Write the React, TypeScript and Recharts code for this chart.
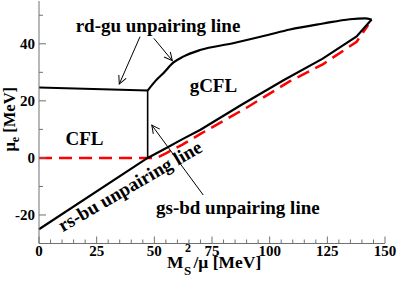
import React from 'react';
import { LineChart, Line, XAxis, YAxis, ReferenceLine, ReferenceDot } from 'recharts';

// phase boundaries (x = Ms^2/mu, y = mu_e, both MeV)
const rdguFlat = [
  { x: 0, y: 24.7 },
  { x: 47.1, y: 23.6 },
];
const rdguVertical = [
  { x: 47.1, y: 23.6 },
  { x: 47.1, y: 0 },
];
const rdguCurve = [
  { x: 47.1, y: 23.6 },
  { x: 50.5, y: 27.0 },
  { x: 53.9, y: 29.7 },
  { x: 58.2, y: 33.4 },
  { x: 62.5, y: 35.5 },
  { x: 69.8, y: 37.8 },
  { x: 84.1, y: 40.2 },
  { x: 98.8, y: 43.0 },
  { x: 108.8, y: 45.0 },
  { x: 123.2, y: 47.1 },
  { x: 134.8, y: 48.6 },
  { x: 141.3, y: 48.9 },
  { x: 144.2, y: 48.5 },
];
const rsbuLine = [
  { x: 0, y: -25 },
  { x: 47.1, y: 0 },
  { x: 55, y: 3.4 },
  { x: 62, y: 6.5 },
  { x: 70, y: 9.9 },
  { x: 88, y: 18.7 },
  { x: 106, y: 27.2 },
  { x: 123, y: 34.8 },
  { x: 137.7, y: 42.6 },
  { x: 144.2, y: 48.5 },
];
const gsbdLine = [
  { x: 0, y: 0 },
  { x: 51, y: 0 },
  { x: 55, y: 1.6 },
  { x: 62, y: 4.6 },
  { x: 70, y: 8.4 },
  { x: 90, y: 17.6 },
  { x: 108.8, y: 26.9 },
  { x: 123.2, y: 32.9 },
  { x: 137.7, y: 40.7 },
  { x: 142.7, y: 46.6 },
];

const xTicks = [0, 5, 10, 15, 20, 25, 30, 35, 40, 45, 50, 55, 60, 65, 70, 75, 80, 85, 90, 95, 100, 105, 110, 115, 120, 125, 130, 135, 140, 145, 150];
const xLabelled = [0, 25, 50, 75, 100, 125, 150];
const yTicks = [-30, -20, -10, 0, 10, 20, 30, 40, 50];
const yLabelled = [-20, 0, 20, 40];

const FONT = '"Liberation Serif", "Times New Roman", serif';
const FRAME = '#707070';

const BottomTick = (p: any) => {
  const v = p.payload.value;
  const major = xLabelled.includes(v);
  return (
    <g>
      <line x1={p.x} y1={p.y} x2={p.x} y2={p.y - (major ? 7 : 4)} stroke={FRAME} />
      {major && (
        <text x={p.x} y={p.y + 12.5} textAnchor="middle" fontFamily={FONT} fontWeight="bold" fontSize={15} fill="#000">
          {v}
        </text>
      )}
    </g>
  );
};
const TopTick = (p: any) => {
  const major = xLabelled.includes(p.payload.value);
  return <line x1={p.x} y1={p.y} x2={p.x} y2={p.y + (major ? 7 : 4)} stroke={FRAME} />;
};
const LeftTick = (p: any) => {
  const v = p.payload.value;
  const major = yLabelled.includes(v);
  return (
    <g>
      <line x1={p.x} y1={p.y} x2={p.x + (major ? 7 : 4)} y2={p.y} stroke={FRAME} />
      {major && (
        <text x={p.x - 4} y={p.y + 5} textAnchor="end" fontFamily={FONT} fontWeight="bold" fontSize={15} fill="#000">
          {v}
        </text>
      )}
    </g>
  );
};
const RightTick = (p: any) => {
  const major = yLabelled.includes(p.payload.value);
  return <line x1={p.x} y1={p.y} x2={p.x - (major ? 7 : 4)} y2={p.y} stroke={FRAME} />;
};

const XLabel = (p: any) => {
  const vb = p.viewBox;
  const x0 = vb.x + vb.width / 2 - 45;
  const base = vb.y + 24.5;
  const common = { fontFamily: FONT, fontWeight: 'bold', fill: '#000' };
  return (
    <g>
      <text x={x0} y={base} fontSize={17.5} {...common}>M</text>
      <text x={x0 + 17} y={base + 7} fontSize={13} {...common}>S</text>
      <text x={x0 + 18} y={base - 16} fontSize={12} {...common}>2</text>
      <text x={x0 + 26.5} y={base} fontSize={17.5} {...common}>/μ [MeV]</text>
    </g>
  );
};
const YLabel = (p: any) => {
  const vb = p.viewBox;
  const cx = vb.x + 6;
  const cy = vb.y + vb.height / 2 - 3;
  return (
    <text x={cx} y={cy} transform={`rotate(-90 ${cx} ${cy})`} textAnchor="middle" fontFamily={FONT} fontWeight="bold" fontSize={16.5} fill="#000">
      μ<tspan dy={4} fontSize={12}>e</tspan>
      <tspan dy={-4}> [MeV]</tspan>
    </text>
  );
};

const note = (label: string, size: number, angle = 0) => (p: any) => (
  <text
    x={p.cx}
    y={p.cy}
    transform={angle ? `rotate(${angle} ${p.cx} ${p.cy})` : undefined}
    textAnchor="middle"
    fontFamily={FONT}
    fontWeight="bold"
    fontSize={size}
    fill="#000"
  >
    {label}
  </text>
);

const arrow = (p: any) => (
  <line x1={p.x1} y1={p.y1} x2={p.x2} y2={p.y2} stroke="#000" strokeWidth={1} markerEnd="url(#openArrow)" />
);

export default function App() {
  return (
    <div style={{ position: 'absolute', left: 0, top: 0, width: 399, height: 286, background: '#fff' }}>
      <LineChart width={399} height={286} margin={{ top: 1, right: 14, bottom: 12.5, left: 9 }}>
        <defs>
          <marker id="openArrow" markerWidth={10} markerHeight={10} refX={9} refY={5} orient="auto" markerUnits="userSpaceOnUse">
            <path d="M1,1 L9,5 L1,9" fill="none" stroke="#000" strokeWidth={1} />
          </marker>
        </defs>
        <XAxis
          xAxisId={0}
          type="number"
          dataKey="x"
          domain={[0, 150]}
          ticks={xTicks}
          interval={0}
          height={30}
          tickSize={0}
          tickMargin={0}
          tickLine={false}
          tick={<BottomTick />}
          axisLine={{ stroke: FRAME }}
          label={<XLabel />}
        />
        <XAxis
          xAxisId="top"
          orientation="top"
          type="number"
          dataKey="x"
          domain={[0, 150]}
          ticks={xTicks}
          interval={0}
          height={0}
          tickSize={0}
          tickMargin={0}
          tickLine={false}
          tick={<TopTick />}
          axisLine={{ stroke: FRAME }}
        />
        <YAxis
          yAxisId={0}
          type="number"
          domain={[-30, 55]}
          ticks={yTicks}
          interval={0}
          width={30}
          tickSize={0}
          tickMargin={0}
          tickLine={false}
          tick={<LeftTick />}
          axisLine={{ stroke: FRAME }}
          label={<YLabel />}
        />
        <YAxis
          yAxisId="right"
          orientation="right"
          type="number"
          domain={[-30, 55]}
          ticks={yTicks}
          interval={0}
          width={0}
          tickSize={0}
          tickMargin={0}
          tickLine={false}
          tick={<RightTick />}
          axisLine={{ stroke: FRAME }}
        />

        <Line data={gsbdLine} dataKey="y" type="linear" stroke="#ff0000" strokeWidth={2.5} strokeDasharray="13 7" dot={false} isAnimationActive={false} />
        <Line data={rdguFlat} dataKey="y" type="linear" stroke="#000" strokeWidth={2} dot={false} isAnimationActive={false} />
        <Line data={rdguVertical} dataKey="y" type="linear" stroke="#000" strokeWidth={1.6} dot={false} isAnimationActive={false} />
        <Line data={rdguCurve} dataKey="y" type="monotone" stroke="#000" strokeWidth={2.2} dot={false} isAnimationActive={false} />
        <Line data={rsbuLine} dataKey="y" type="linear" stroke="#000" strokeWidth={2.2} dot={false} isAnimationActive={false} />

        <ReferenceLine segment={[{ x: 43.8, y: 42.5 }, { x: 34.8, y: 25.9 }]} shape={arrow} />
        <ReferenceLine segment={[{ x: 49.8, y: 41.9 }, { x: 57.8, y: 34.1 }]} shape={arrow} />
        <ReferenceLine segment={[{ x: 71.2, y: -13 }, { x: 48.9, y: 11.5 }]} shape={arrow} />

        <ReferenceDot x={51.6} y={44.3} r={0} shape={note('rd-gu unpairing line', 19)} />
        <ReferenceDot x={75.6} y={23.1} r={0} shape={note('gCFL', 19)} />
        <ReferenceDot x={19.7} y={4.5} r={0} shape={note('CFL', 19)} />
        <ReferenceDot x={40.8} y={-11.8} r={0} shape={note('rs-bu unpairing line', 19, -30)} />
        <ReferenceDot x={86.2} y={-19.7} r={0} shape={note('gs-bd unpairing line', 19)} />
      </LineChart>
    </div>
  );
}
